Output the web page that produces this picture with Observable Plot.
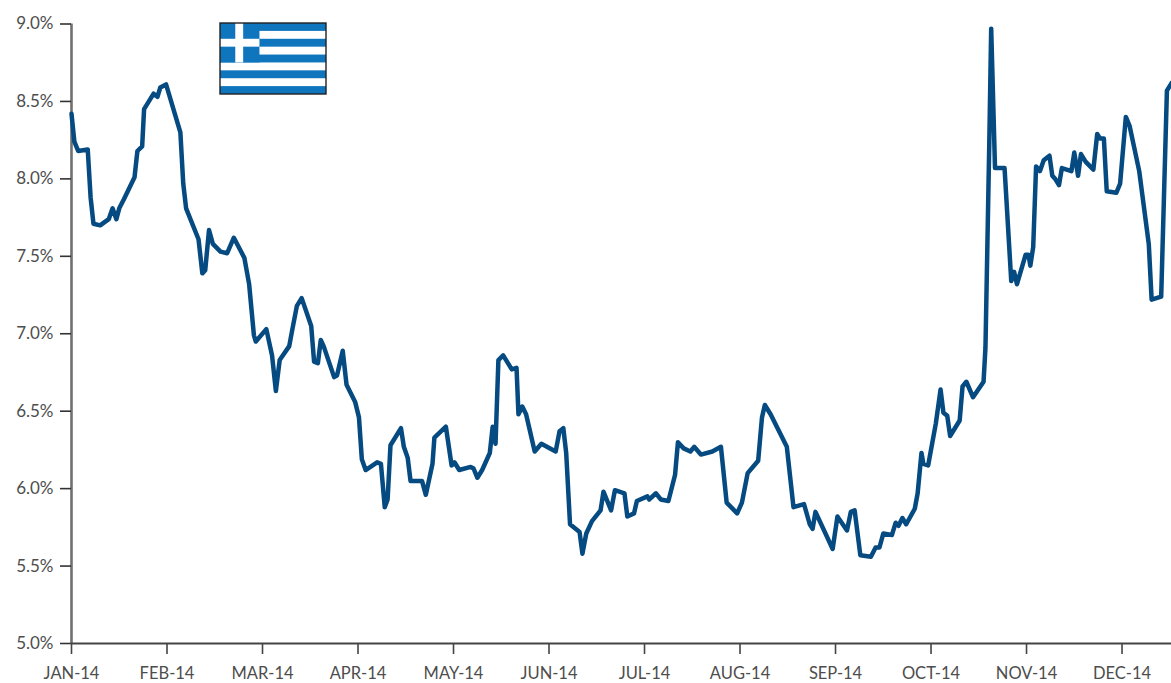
<!DOCTYPE html>
<html>
<head>
<meta charset="utf-8">
<script src="https://cdn.jsdelivr.net/npm/d3@7"></script>
<script src="https://cdn.jsdelivr.net/npm/@observablehq/plot@0.6"></script>
<style>
  html, body { margin: 0; padding: 0; background: #fff; }
  #chart { position: relative; width: 1171px; height: 683px; overflow: hidden; }
  #chart > svg { display: block; }
  #flag { position: absolute; left: 219px; top: 22px; }
</style>
</head>
<body>
<div id="chart"></div>
<script>
// Greek 10-year government bond yield, 2014. Months are evenly spaced,
// so position along the year is counted in months since January.
const monthLabels = ["JAN-14","FEB-14","MAR-14","APR-14","MAY-14","JUN-14","JUL-14","AUG-14","SEP-14","OCT-14","NOV-14","DEC-14"];
const yieldTicks = [5, 5.5, 6, 6.5, 7, 7.5, 8, 8.5, 9];

const monthPos = [
  0,0.03,0.07,0.17,0.20,0.23,0.30,0.39,0.43,0.47,
  0.50,0.55,0.66,0.69,0.74,0.76,0.81,0.86,0.90,0.93,
  0.99,1.14,1.17,1.20,1.33,1.37,1.40,1.44,1.48,1.56,
  1.63,1.70,1.81,1.86,1.91,1.93,2.04,2.10,2.14,2.18,
  2.28,2.31,2.36,2.41,2.51,2.54,2.58,2.61,2.64,2.75,
  2.78,2.84,2.88,2.97,3.01,3.04,3.08,3.20,3.24,3.28,
  3.31,3.34,3.45,3.48,3.52,3.55,3.67,3.71,3.78,3.80,
  3.92,3.98,4.01,4.06,4.18,4.21,4.25,4.30,4.38,4.41,
  4.44,4.47,4.52,4.61,4.66,4.68,4.72,4.76,4.85,4.92,
  5.07,5.11,5.15,5.18,5.22,5.32,5.35,5.39,5.45,5.54,
  5.57,5.65,5.69,5.79,5.82,5.89,5.92,6.03,6.05,6.12,
  6.17,6.25,6.32,6.35,6.41,6.48,6.52,6.59,6.71,6.80,
  6.86,6.97,7.02,7.08,7.19,7.23,7.26,7.32,7.49,7.56,
  7.67,7.73,7.76,7.79,7.97,8.02,8.12,8.16,8.20,8.26,
  8.37,8.42,8.46,8.50,8.59,8.63,8.66,8.70,8.74,8.83,
  8.86,8.90,8.92,8.97,9.05,9.10,9.13,9.17,9.20,9.30,
  9.33,9.37,9.44,9.55,9.57,9.61,9.63,9.67,9.77,9.84,
  9.87,9.90,9.99,10.02,10.04,10.07,10.10,10.14,10.18,10.24,
  10.27,10.30,10.34,10.37,10.47,10.50,10.54,10.57,10.62,10.70,
  10.74,10.77,10.81,10.84,10.94,10.98,11.04,11.08,11.18,11.28,
  11.31,11.41,11.47,11.52
];

const yieldPct = [
  8.42,8.24,8.18,8.19,7.88,7.71,7.70,7.74,7.81,7.74,
  7.81,7.87,8.01,8.18,8.21,8.45,8.50,8.55,8.53,8.59,
  8.61,8.30,7.97,7.81,7.61,7.39,7.41,7.67,7.58,7.53,
  7.52,7.62,7.49,7.32,6.99,6.95,7.03,6.86,6.63,6.83,
  6.92,7.02,7.18,7.23,7.05,6.82,6.81,6.96,6.92,6.72,
  6.73,6.89,6.67,6.56,6.46,6.19,6.12,6.17,6.16,5.88,
  5.93,6.28,6.39,6.27,6.20,6.05,6.05,5.96,6.16,6.33,
  6.40,6.15,6.17,6.12,6.14,6.13,6.07,6.12,6.23,6.40,
  6.29,6.83,6.86,6.77,6.78,6.48,6.53,6.48,6.24,6.29,
  6.24,6.37,6.39,6.23,5.77,5.72,5.58,5.71,5.79,5.86,
  5.98,5.86,5.99,5.97,5.82,5.84,5.92,5.95,5.93,5.97,
  5.93,5.92,6.09,6.30,6.26,6.24,6.27,6.22,6.24,6.27,
  5.91,5.84,5.91,6.10,6.18,6.46,6.54,6.48,6.27,5.88,
  5.90,5.77,5.74,5.85,5.61,5.82,5.73,5.85,5.86,5.57,
  5.56,5.62,5.62,5.71,5.70,5.78,5.76,5.81,5.77,5.87,
  5.97,6.23,6.16,6.15,6.42,6.64,6.49,6.47,6.34,6.44,
  6.66,6.69,6.59,6.69,6.91,8.23,8.97,8.07,8.07,7.34,
  7.40,7.32,7.51,7.51,7.44,7.56,8.08,8.05,8.12,8.15,
  8.02,8.00,7.96,8.07,8.05,8.17,8.02,8.16,8.11,8.06,
  8.29,8.26,8.26,7.92,7.91,7.97,8.40,8.34,8.05,7.58,
  7.22,7.24,8.57,8.62
];

const series = monthPos.map((m, i) => ({m, y: yieldPct[i]}));

const plot = Plot.plot({
  width: 1171,
  height: 683,
  marginLeft: 71,
  marginRight: 0,
  marginTop: 23.5,
  marginBottom: 40,
  style: {fontFamily: "Lato, sans-serif", fontSize: "16.5px", background: "#fff"},
  x: {domain: [0, 11.518], label: null},
  y: {domain: [5, 9], label: null},
  marks: [
    Plot.ruleX([0], {stroke: "#707070", strokeWidth: 2.6}),
    Plot.ruleY([5], {stroke: "#444", strokeWidth: 1.8}),
    Plot.axisY({
      ticks: yieldTicks,
      tickFormat: d => d.toFixed(1) + "%",
      tickSize: 11,
      tickPadding: 7,
      fontSize: 17,
      stroke: "#333",
      strokeWidth: 1.6,
      fill: "#4d4d4d",
      label: null
    }),
    Plot.axisX({
      ticks: d3.range(monthLabels.length),
      tickFormat: i => monthLabels[i],
      tickSize: 11,
      tickPadding: 13,
      stroke: "#444",
      strokeWidth: 1.6,
      fill: "#4d4d4d",
      label: null
    }),
    Plot.line(series, {x: "m", y: "y", stroke: "#054a80", strokeWidth: 4.5})
  ]
});
document.getElementById("chart").appendChild(plot);

// Greek flag badge: nine stripes with the cross in the canton.
const stripeRows = d3.range(9);
const flag = d3.select("#chart").append("svg")
  .attr("id", "flag")
  .attr("width", 108).attr("height", 73)
  .attr("viewBox", "0 0 108 73");
const flagBlue = "#0f75bc";
const sw = 71 / 9;
flag.append("rect").attr("x", 1).attr("y", 1).attr("width", 106).attr("height", 71).attr("fill", "#fff");
flag.selectAll("rect.stripe").data(stripeRows.filter(i => i % 2 === 0)).join("rect")
  .attr("class", "stripe")
  .attr("x", 1).attr("width", 106)
  .attr("y", i => 1 + i * sw).attr("height", sw)
  .attr("fill", flagBlue);
const canton = sw * 5;
flag.append("rect").attr("x", 1).attr("y", 1).attr("width", canton).attr("height", canton).attr("fill", flagBlue);
flag.append("rect").attr("x", 1 + canton / 2 - sw / 2 - 0.5).attr("y", 1).attr("width", sw).attr("height", canton).attr("fill", "#fff");
flag.append("rect").attr("x", 1).attr("y", 1 + canton / 2 - sw / 2).attr("width", canton).attr("height", sw).attr("fill", "#fff");
flag.append("rect").attr("x", 1).attr("y", 1).attr("width", 106).attr("height", 71)
  .attr("fill", "none").attr("stroke", "#222").attr("stroke-width", 1.4);
</script>
</body>
</html>
